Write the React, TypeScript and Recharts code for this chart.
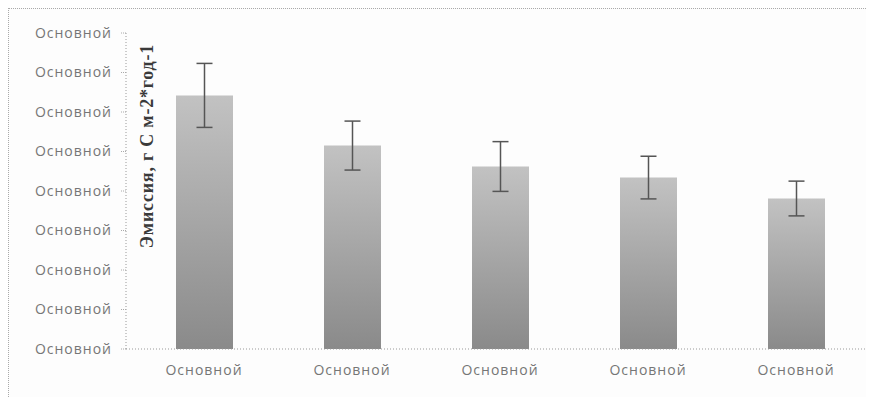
import { BarChart, Bar, XAxis, YAxis, ErrorBar } from 'recharts';

// values (y scale 0..8, labels all show "Основной")
const categories = ['Основной', 'Основной', 'Основной', 'Основной', 'Основной'];
const emission = [6.42, 5.15, 4.62, 4.34, 3.81];
const emissionErr = [0.81, 0.62, 0.63, 0.54, 0.44];
const yTicks = [0, 1, 2, 3, 4, 5, 6, 7, 8];
const yTickLabels = ['Основной', 'Основной', 'Основной', 'Основной', 'Основной', 'Основной', 'Основной', 'Основной', 'Основной'];
const yTitle = 'Эмиссия, г С м-2*год-1';

const data = categories.map((c, i) => ({ idx: i, value: emission[i], err: emissionErr[i] }));

const tickStyle = { fontFamily: '"Open Sans", sans-serif', fontSize: 14, letterSpacing: 1, fill: '#767676' };

const YTitle = (props: any) => {
  const vb = props.viewBox || { x: 0, width: 117 };
  const x = vb.x + vb.width + 21;
  const y = 137;
  return (
    <text
      x={x}
      y={y}
      transform={`rotate(-90, ${x}, ${y})`}
      textAnchor="middle"
      dominantBaseline="central"
      fontFamily='"Liberation Serif", serif'
      fontWeight="bold"
      fontSize={18}
      letterSpacing={0.8}
      fill="#3a3a3a"
    >
      {yTitle}
    </text>
  );
};

export default function App() {
  return (
    <div
      style={{
        width: 866,
        height: 389,
        borderTop: '1px dotted #aaa',
        borderLeft: '1px dotted #aaa',
        boxSizing: 'border-box',
        background: '#fdfdfd',
      }}
    >
      <BarChart width={865} height={388} data={data} margin={{ top: 24, right: 4, bottom: 18, left: 0 }}>
        <defs>
          <linearGradient id="barFill" x1="0" y1="0" x2="0" y2="1">
            <stop offset="0%" stopColor="#c2c2c2" />
            <stop offset="100%" stopColor="#8a8a8a" />
          </linearGradient>
        </defs>
        <XAxis
          dataKey="idx"
          type="category"
          height={30}
          padding={{ left: 4, right: 0 }}
          tickFormatter={(i: number) => categories[i]}
          tick={tickStyle}
          tickLine={false}
          tickMargin={10}
          axisLine={{ stroke: '#999', strokeDasharray: '1 2' }}
        />
        <YAxis
          width={117}
          domain={[0, 8]}
          ticks={yTicks}
          interval={0}
          tickFormatter={(v: number) => yTickLabels[v]}
          tick={tickStyle}
          tickSize={5}
          tickMargin={9}
          tickLine={{ stroke: '#aaa', strokeDasharray: '1 1' }}
          axisLine={{ stroke: '#999', strokeDasharray: '1 2' }}
          label={{ content: <YTitle /> }}
        />
        <Bar dataKey="value" fill="url(#barFill)" barSize={57} isAnimationActive={false}>
          <ErrorBar dataKey="err" width={8} stroke="#555" strokeWidth={1.5} direction="y" isAnimationActive={false} />
        </Bar>
      </BarChart>
    </div>
  );
}
